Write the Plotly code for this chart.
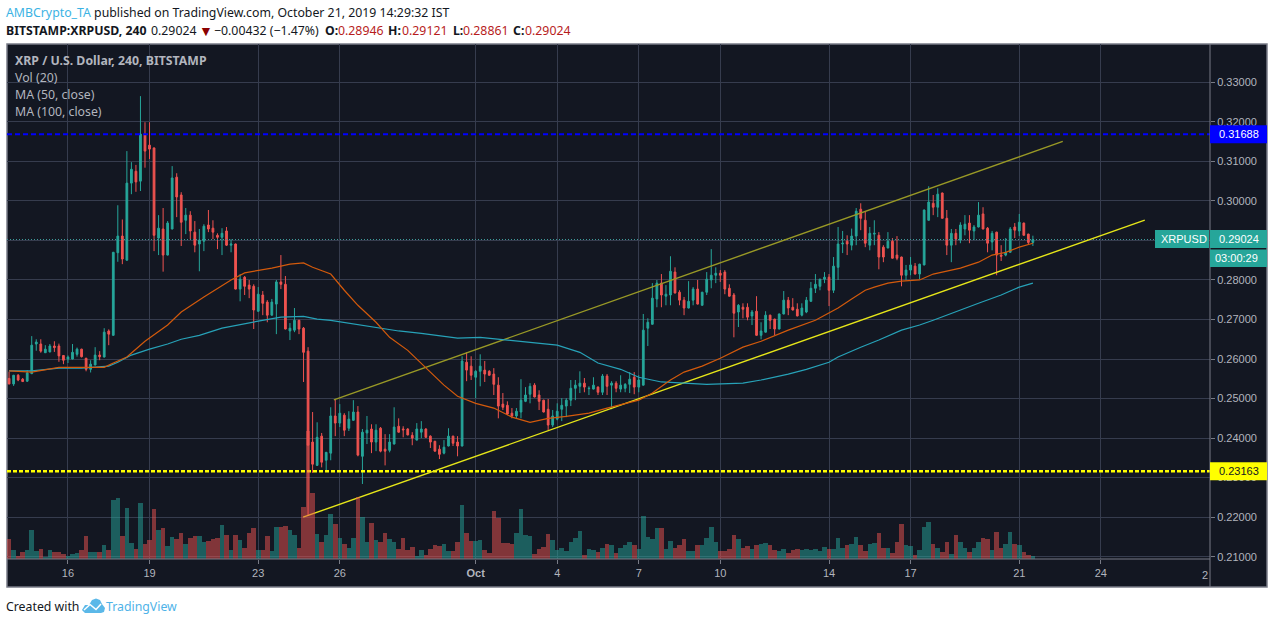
import plotly.graph_objects as go

W, H = 1274, 624
# OHLC in units of 0.0001 USD, one candle per 4 hours
opens = [2551,2537,2559,2549,2544,2563,2638,2638,2616,2618,2633,2633,2609,2600,2600,2612,2625,2602,2574,2585,
2610,2605,2671,2660,2869,2911,2850,3045,3075,3050,3169,3141,3134,2906,2929,2863,2929,3060,3015,2951,
2964,2921,2891,2898,2939,2931,2913,2908,2924,2888,2891,2777,2807,2787,2784,2721,2762,2744,2711,2739,
2795,2789,2671,2673,2698,2678,2620,2390,2331,2405,2344,2362,2456,2438,2458,2425,2445,2466,2354,2413,
2423,2390,2425,2372,2369,2385,2430,2423,2423,2407,2395,2415,2423,2405,2392,2372,2362,2380,2405,2390,
2380,2592,2582,2554,2569,2572,2569,2562,2534,2486,2483,2463,2456,2466,2493,2511,2534,2509,2496,2473,
2433,2448,2473,2481,2496,2526,2531,2539,2525,2524,2529,2516,2557,2534,2539,2524,2526,2536,2554,2529,
2534,2678,2688,2752,2792,2759,2762,2820,2769,2749,2729,2749,2777,2736,2769,2800,2812,2817,2820,2779,
2762,2719,2731,2731,2709,2721,2660,2668,2711,2701,2676,2714,2749,2731,2726,2711,2719,2746,2779,2784,
2802,2807,2774,2832,2891,2898,2888,2911,2979,2951,2888,2916,2913,2883,2881,2898,2863,2858,2812,2825,
2835,2815,2838,2951,2994,2984,3020,2956,2888,2918,2901,2929,2944,2924,2934,2967,2931,2896,2921,2863,
2863,2870,2934,2924,2944,2916,2895]
highs = [2568,2560,2562,2552,2572,2658,2650,2650,2635,2638,2645,2639,2610,2609,2638,2629,2626,2603,2597,2630,
2620,2678,2675,2871,2989,2953,3126,3098,3091,3265,3199,3199,3135,2964,2982,2949,3088,3070,3022,2982,
2974,2949,2929,2941,2977,2951,2918,2931,2934,2903,2892,2815,2810,2800,2789,2782,2772,2749,2752,2800,
2863,2810,2691,2729,2699,2681,2630,2466,2440,2413,2365,2478,2499,2486,2463,2468,2496,2481,2423,2456,
2435,2435,2428,2410,2410,2478,2450,2430,2425,2415,2438,2443,2425,2407,2393,2382,2395,2425,2406,2405,
2607,2617,2607,2572,2612,2595,2572,2577,2554,2514,2493,2476,2476,2549,2529,2539,2539,2521,2497,2499,
2471,2488,2501,2501,2547,2547,2569,2552,2531,2554,2531,2562,2562,2544,2544,2559,2539,2567,2567,2559,
2714,2703,2792,2800,2815,2787,2860,2832,2774,2757,2797,2782,2800,2770,2820,2878,2832,2825,2825,2789,
2767,2739,2741,2741,2724,2759,2693,2721,2712,2702,2715,2772,2757,2754,2741,2741,2757,2795,2815,2803,
2820,2815,2858,2934,2924,2913,2930,2982,2994,2972,2934,2951,2921,2888,2921,2906,2911,2859,2838,2858,
2843,2841,2978,3037,3015,3032,3021,2977,2929,2929,2946,2964,2964,2939,2997,2984,2934,2924,2922,2888,
2906,2934,2944,2967,2945,2917,2912]
lows = [2536,2532,2544,2542,2542,2562,2621,2616,2616,2617,2618,2593,2587,2590,2599,2606,2604,2569,2566,2584,
2597,2604,2635,2659,2846,2840,2849,3017,3023,3025,3084,3106,2873,2863,2821,2862,2928,2959,2886,2916,
2903,2870,2822,2873,2921,2903,2878,2863,2886,2870,2776,2746,2762,2754,2676,2719,2711,2693,2710,2663,
2777,2675,2648,2668,2663,2542,2203,2312,2330,2326,2316,2344,2405,2428,2405,2418,2444,2354,2284,2385,
2362,2367,2364,2331,2364,2384,2414,2402,2407,2382,2394,2400,2401,2375,2366,2347,2359,2379,2380,2354,
2379,2544,2547,2501,2531,2542,2558,2509,2450,2471,2458,2450,2450,2450,2491,2488,2503,2471,2465,2420,
2428,2445,2443,2453,2481,2496,2514,2516,2509,2523,2509,2509,2509,2473,2516,2516,2516,2514,2511,2516,
2533,2633,2687,2731,2731,2736,2736,2766,2736,2711,2728,2736,2738,2735,2762,2779,2792,2795,2764,2758,
2655,2681,2703,2698,2686,2659,2650,2667,2676,2660,2675,2713,2711,2723,2708,2708,2716,2745,2767,2774,
2792,2734,2767,2800,2868,2863,2875,2888,2926,2883,2875,2888,2827,2845,2880,2854,2850,2784,2800,2812,
2814,2802,2837,2950,2964,2959,2956,2863,2845,2888,2893,2913,2893,2901,2933,2928,2870,2875,2812,2848,
2860,2869,2906,2911,2913,2891,2886]
closes = [2537,2559,2547,2543,2565,2635,2643,2620,2625,2633,2629,2608,2597,2605,2617,2625,2606,2574,2587,2610,
2606,2668,2663,2870,2911,2853,3045,3080,3048,3169,3126,3131,2913,2931,2863,2944,3058,3010,2946,2964,
2924,2888,2901,2936,2929,2921,2908,2918,2888,2891,2777,2802,2784,2777,2724,2764,2741,2711,2744,2795,
2789,2676,2678,2698,2676,2617,2382,2334,2402,2339,2364,2456,2438,2463,2420,2448,2466,2357,2415,2420,
2390,2420,2367,2367,2390,2428,2415,2421,2408,2400,2423,2423,2402,2390,2367,2359,2377,2405,2387,2380,
2595,2572,2559,2569,2582,2562,2559,2536,2481,2478,2461,2456,2468,2496,2509,2531,2504,2493,2466,2433,
2456,2468,2483,2496,2526,2534,2539,2529,2526,2534,2516,2557,2531,2539,2526,2534,2536,2549,2529,2547,
2673,2693,2754,2792,2762,2764,2822,2767,2749,2729,2746,2777,2739,2769,2802,2812,2817,2812,2777,2759,
2716,2736,2726,2706,2719,2660,2671,2711,2698,2676,2714,2749,2729,2724,2709,2729,2749,2779,2789,2802,
2807,2774,2835,2891,2893,2891,2911,2974,2956,2893,2918,2918,2858,2858,2898,2855,2855,2812,2825,2838,
2815,2840,2977,2997,2984,3017,2956,2888,2918,2903,2939,2941,2926,2934,2964,2929,2893,2918,2863,2860,
2870,2929,2926,2946,2913,2895,2902]
volumes = [20,9,3,7,9,29,8,10,2,9,7,7,5,3,5,6,9,23,7,7,7,14,9,59,61,23,51,16,10,56,
15,19,50,29,31,13,22,20,26,15,21,23,23,17,18,20,21,34,24,9,24,19,11,26,31,9,9,23,8,32,
32,33,29,24,11,52,128,66,25,17,24,45,35,21,15,11,21,62,42,17,36,19,17,26,20,17,10,21,9,12,
3,9,4,10,14,13,15,8,8,17,54,26,18,18,19,9,6,48,41,16,16,15,26,50,24,23,5,10,12,25,
19,9,11,8,17,21,28,4,10,9,7,11,15,14,6,11,14,17,14,10,43,22,20,31,31,10,18,11,14,20,
8,8,14,14,21,32,17,8,8,10,24,20,11,13,10,14,15,16,14,9,8,10,6,9,10,9,10,9,10,8,
12,10,10,21,11,14,15,22,14,8,15,16,26,11,11,6,17,35,14,13,4,9,32,37,15,11,7,17,5,24,
17,11,7,11,17,21,20,9,27,11,15,27,15,14,7,4,3]

ma50_bars = [0,5,11,16,21,23,26,30,35,38,43,49,52,58,62,65,67,71,74,77,81,84,88,93,96,99,103,107,111,115,119,123,128,132,139,142,146,149,153,157,162,166,172,178,181,183,186,189,191,194,197,201,204,206,210,214,217,220,223,226]
ma50_vals = [2570,2567,2579,2579,2579,2590,2605,2645,2686,2719,2757,2800,2818,2830,2840,2843,2832,2815,2774,2736,2693,2655,2622,2567,2534,2506,2488,2476,2453,2440,2450,2455,2463,2476,2496,2514,2547,2567,2582,2602,2630,2645,2673,2698,2716,2729,2752,2774,2782,2792,2797,2800,2815,2820,2830,2845,2863,2870,2883,2893]
ma100_bars = [0,5,11,16,22,24,27,31,35,38,42,47,55,60,65,68,71,75,86,91,94,99,104,108,114,121,126,130,135,139,144,148,154,162,166,172,176,181,183,188,192,197,201,204,208,214,219,223,226]
ma100_vals = [2570,2570,2577,2577,2582,2592,2610,2625,2638,2650,2660,2678,2696,2706,2708,2701,2698,2691,2671,2665,2660,2653,2655,2650,2643,2635,2617,2590,2574,2554,2542,2539,2536,2539,2547,2562,2574,2592,2605,2630,2648,2673,2686,2698,2716,2741,2762,2782,2792]

channel_upper_bars = [71.7, 232.6]
channel_upper_vals = [0.24967, 0.31507]
channel_lower_bars = [64.9, 250.7]
channel_lower_vals = [0.21999, 0.29514]

resistance = 0.31688
support = 0.23163
last_price = 0.29024

x_tick_bars = [13, 31, 55, 73, 103, 121, 139, 157, 181, 199, 223, 241]
x_tick_labels = ["16", "19", "23", "26", "<b>Oct</b>", "4", "7", "10", "14", "17", "21", "24"]
y_ticks = [0.21, 0.22, 0.23, 0.24, 0.25, 0.26, 0.27, 0.28, 0.29, 0.30, 0.31, 0.32, 0.33]
y_tick_labels = ["0.21000", "0.22000", "0.23000", "0.24000", "0.25000", "0.26000", "0.27000", "0.28000", "", "0.30000", "0.31000", "0.32000", "0.33000"]

# pane geometry in page pixels
PL, PR, PT, PB, OR, OB = 7, 1210, 44, 559, 1267, 587
X_RANGE = [-0.46, 265.1]
Y_RANGE = [0.20942, 0.33969]
BG, GRID, AXIS = "#131722", "#363c4e", "#787b86"
UP, DOWN = "#26a69a", "#ef5350"
TXT = "#b2b5be"
FONT = "Noto Sans"
HDR = 12.3

fx = lambda px: px / W
fy = lambda py: 1 - py / H
py_of = lambda price: PB - (price - Y_RANGE[0]) / (Y_RANGE[1] - Y_RANGE[0]) * (PB - PT)

n = len(opens)
bars = list(range(n))
scale = 1e-4
O = [v * scale for v in opens]
Hi = [v * scale for v in highs]
Lo = [v * scale for v in lows]
C = [v * scale for v in closes]
vol_colors = ["rgba(38,166,154,0.5)" if c >= o else "rgba(239,83,80,0.5)" for o, c in zip(opens, closes)]

fig = go.Figure()
fig.add_trace(go.Candlestick(
    x=bars, open=O, high=Hi, low=Lo, close=C, whiskerwidth=0,
    increasing=dict(line=dict(color=UP, width=1), fillcolor=UP),
    decreasing=dict(line=dict(color=DOWN, width=1), fillcolor=DOWN),
    showlegend=False, hoverinfo="skip"))


def line(x, y, color, width=1.2, dash=None):
    fig.add_trace(go.Scatter(x=x, y=y, mode="lines", showlegend=False, hoverinfo="skip",
                             line=dict(color=color, width=width, dash=dash)))


line(X_RANGE, [last_price, last_price], "#3f9a9a", 1, "1px,2px")
line(X_RANGE, [resistance, resistance], "#0000ff", 2, "5px,3px")
line(X_RANGE, [support, support], "#ffff00", 2.5, "4px,2px")
line(channel_upper_bars, channel_upper_vals, "#999926", 1.4)
line(channel_lower_bars, channel_lower_vals, "#e6e619", 1.4)
line(ma100_bars, [v * scale for v in ma100_vals], "#27a2b8", 1.2)
line(ma50_bars, [v * scale for v in ma50_vals], "#d35a0c", 1.2)

fig.add_trace(go.Bar(x=bars, y=volumes, yaxis="y2", marker=dict(color=vol_colors, line=dict(width=0)),
                     showlegend=False, hoverinfo="skip"))

shapes = [
    dict(type="rect", xref="paper", yref="paper", x0=fx(PL), x1=fx(OR), y0=fy(OB), y1=fy(PT),
         fillcolor=BG, line=dict(color=AXIS, width=1.5), layer="below"),
    dict(type="line", xref="paper", yref="paper", x0=fx(PR), x1=fx(PR), y0=fy(OB), y1=fy(PT),
         line=dict(color=AXIS, width=1)),
    dict(type="line", xref="paper", yref="paper", x0=fx(PL), x1=fx(PR), y0=fy(PB), y1=fy(PB),
         line=dict(color=AXIS, width=1)),
]


def box(x0, x1, y0, y1, color):
    shapes.append(dict(type="rect", xref="paper", yref="paper", x0=fx(x0), x1=fx(x1), y0=fy(y1), y1=fy(y0),
                       fillcolor=color, line=dict(width=0)))


ann = []


def text(px, py, s, color=TXT, size=12.3, anchor="left", family=FONT):
    ann.append(dict(xref="paper", yref="paper", x=fx(px), y=fy(py), text=s, showarrow=False, xanchor=anchor,
                    yanchor="middle", font=dict(family=family, size=size, color=color),
                    borderpad=0, borderwidth=0))


# price-axis tags
AX_FONT = "Liberation Sans"
AX_SIZE = 11
box(PR, OR, py_of(resistance) - 9, py_of(resistance) + 9, "#0000ff")
text(1219, py_of(resistance), "0.31688", "#ffffff", AX_SIZE, family=AX_FONT)
box(PR, OR, py_of(support) - 9, py_of(support) + 9, "#ffff00")
text(1219, py_of(support), "0.23163", "#131722", AX_SIZE, family=AX_FONT)
box(1155, 1209, 230, 248, UP)
text(1184, 239, "XRPUSD", "#ffffff", AX_SIZE, "center", family=AX_FONT)
box(PR, OR, 230, 248, UP)
text(1219, 239, "0.29024", "#ffffff", AX_SIZE, family=AX_FONT)
box(PR, OR, 249.5, 267, UP)
text(1236, 258, "03:00:29", "#ffffff", AX_SIZE, "center", family=AX_FONT)

# clipped last time label at the pane edge
ann.append(dict(xref="x", yref="paper", x=264.1, y=fy(574.5), text="2", showarrow=False, yanchor="middle",
                font=dict(family=AX_FONT, size=AX_SIZE, color=TXT)))

# legend block
text(15, 60.5, "<b>XRP / U.S. Dollar, 240, BITSTAMP</b>")
text(15, 77.5, "Vol (20)")
text(15, 94.5, "MA (50, close)")
text(15, 111.5, "MA (100, close)")

# header
DK = "#131722"
RED = "#b71c1c"
text(6, 12.5, '<span style="color:#3bb3e4">AMBCrypto_TA</span> published on TradingView.com, October 21, 2019 14:29:32 IST', DK, HDR)
header_segments = [
    (6, "<b>BITSTAMP:XRPUSD, 240</b>", DK), (151, "0.29024", DK), (214, "−0.00432 (−1.47%)", DK),
    (325, "<b>O:</b>", DK), (338, "0.28946", RED), (388, "<b>H:</b>", DK), (402, "0.29121", RED),
    (453, "<b>L:</b>", DK), (463, "0.28861", RED), (513, "<b>C:</b>", DK), (525, "0.29024", RED),
]
for seg_x, seg_text, seg_color in header_segments:
    text(seg_x, 30, seg_text, seg_color, HDR)
text(199, 30, "▼", "#8b0000", 14)

# footer
text(6, 606.5, "Created with", DK, HDR)
text(106, 606.5, "TradingView", "#4fb3e8", HDR)


def path(points):
    return "M" + "L".join(f"{fx(a):.5f},{fy(b):.5f}" for a, b in points)


cloud = [(82, 610), (85, 605), (89, 605), (92, 600), (96, 598.5), (100, 600), (102, 604), (105, 608), (104, 612), (101, 613), (85, 613)]
shapes.append(dict(type="path", xref="paper", yref="paper", path=path(cloud) + "Z", fillcolor="#5bb8e8", line=dict(width=0)))
shapes.append(dict(type="path", xref="paper", yref="paper", path=path([(84, 610), (90, 604.5), (96, 609.5), (101, 604)]),
                   line=dict(color="#ffffff", width=1.5)))

fig.update_layout(
    width=W, height=H, autosize=False, margin=dict(l=0, r=0, t=0, b=0, pad=0, autoexpand=False),
    paper_bgcolor="#ffffff", plot_bgcolor="rgba(0,0,0,0)", showlegend=False,
    boxgap=0.45, bargap=0, shapes=shapes, annotations=ann,
    xaxis=dict(domain=[fx(PL), fx(PR)], range=X_RANGE, rangeslider=dict(visible=False), tickmode="array",
               tickvals=x_tick_bars, ticktext=x_tick_labels, showgrid=True, gridcolor=GRID, gridwidth=1,
               ticks="outside", ticklen=4, tickcolor=AXIS, showline=False, zeroline=False, automargin=False,
               tickfont=dict(family=AX_FONT, size=AX_SIZE, color=TXT), anchor="y"),
    yaxis=dict(domain=[fy(PB), fy(PT)], range=Y_RANGE, side="right", tickmode="array", tickvals=y_ticks,
               ticktext=y_tick_labels, showgrid=True, gridcolor=GRID, gridwidth=1, automargin=False,
               ticks="outside", ticklen=4, tickcolor=AXIS, showline=False, zeroline=False,
               tickfont=dict(family=AX_FONT, size=AX_SIZE, color=TXT), anchor="x"),
    yaxis2=dict(domain=[fy(PB), fy(PT)], range=[0, 515], overlaying="y", visible=False, anchor="x"),
)

fig.write_html("out.html", config=dict(displayModeBar=False),
               post_script="document.body.style.margin='0';document.body.style.overflow='hidden';")
